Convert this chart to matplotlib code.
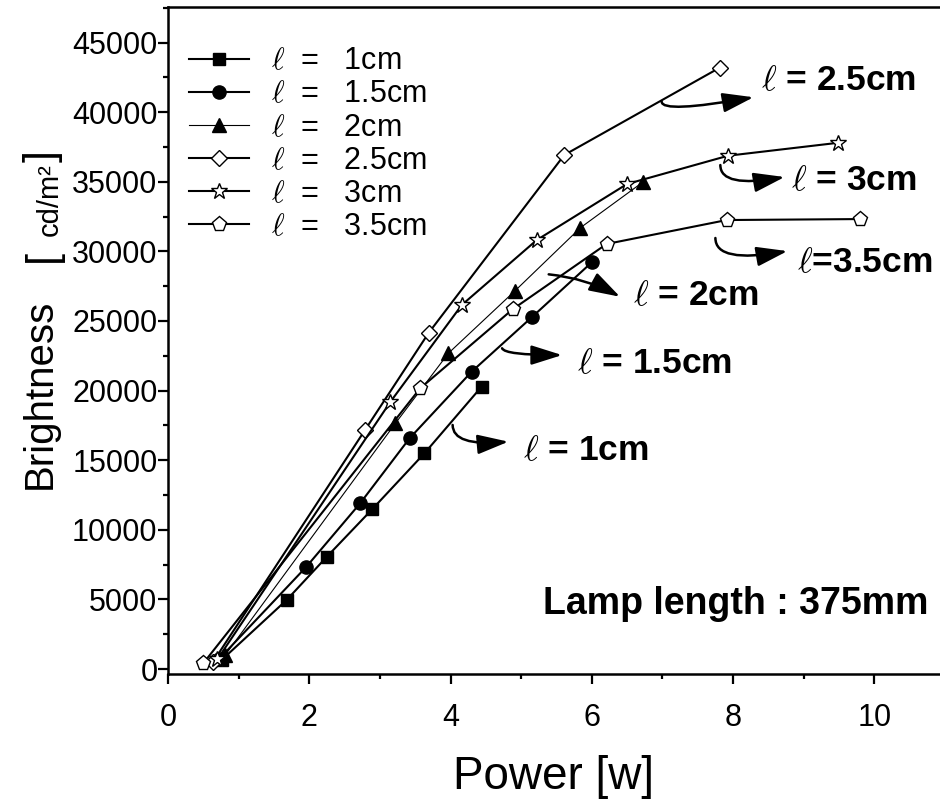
import matplotlib
matplotlib.use("Agg")
import matplotlib.pyplot as plt
from matplotlib.ticker import MultipleLocator

plt.rcParams['font.family'] = ['Liberation Sans', 'DejaVu Sans']
plt.rcParams['mathtext.fontset'] = 'cm'

# data: power [W] vs brightness [cd/m2] per electrode length
power_1 = [0.76, 1.68, 2.25, 2.89, 3.63, 4.44]
bright_1 = [650, 4960, 8070, 11470, 15490, 20280]

power_15 = [0.72, 1.96, 2.72, 3.42, 4.30, 5.16, 6.01]
bright_15 = [700, 7350, 11900, 16570, 21360, 25310, 29260]

power_2 = [0.81, 3.22, 3.97, 4.91, 5.84, 6.73]
bright_2 = [1000, 17650, 22680, 27150, 31700, 35000]

power_25 = [0.64, 2.79, 3.69, 5.61, 7.81]
bright_25 = [525, 17170, 24140, 36920, 43190]

power_3 = [0.70, 3.15, 4.16, 5.22, 6.50, 7.93, 9.49]
bright_3 = [700, 19200, 26150, 30810, 34840, 36870, 37800]

power_35 = [0.50, 3.57, 4.88, 6.21, 7.91, 9.80]
bright_35 = [410, 20160, 25840, 30530, 32250, 32320]

lengths = ['1cm', '1.5cm', '2cm', '2.5cm', '3cm', '3.5cm']

fig = plt.figure(figsize=(9.4, 7.99), dpi=100)
ax = fig.add_axes([0.1787, 0.1564, 0.8213, 0.8348])

series = [
    (power_1, bright_1, 's', 'black', 8.5, 1.5),
    (power_15, bright_15, 'o', 'black', 9.5, 1.5),
    (power_2, bright_2, '^', 'black', 10, 0.8),
    (power_25, bright_25, 'D', 'white', 8.5, 1.5),
    (power_3, bright_3, '*', 'white', 12, 1.5),
    (power_35, bright_35, 'p', 'white', 11, 1.5),
]
for (px, py, mk, fc, ms, lw), name in zip(series, lengths):
    ax.plot(px, py, color='black', lw=lw, marker=mk, ms=ms, mfc=fc,
            mec='black', mew=1.0, label=r'$\ell$  =   ' + name)

ax.set_xlim(0, 10.93)
ax.set_ylim(-360, 47550)
ax.xaxis.set_major_locator(MultipleLocator(2))
ax.xaxis.set_minor_locator(MultipleLocator(1))
ax.yaxis.set_major_locator(MultipleLocator(5000))
ax.yaxis.set_minor_locator(MultipleLocator(2500))
ax.tick_params(which='major', direction='out', length=7, width=1.6, labelsize=22)
ax.tick_params(which='minor', direction='out', length=3.8, width=1.6)
ax.tick_params(axis='y', pad=0.5)
ax.tick_params(axis='x', pad=14)
ax.spines['right'].set_visible(False)
for s in ['left', 'bottom', 'top']:
    ax.spines[s].set_linewidth(1.8)

ax.set_xlabel('Power [w]', fontsize=33, labelpad=16)

# y label built from pieces so the unit can be smaller than the word
fig.text(40 / 940, 1 - 394 / 799, 'Brightness', rotation=90, fontsize=29,
         ha='center', va='center')
fig.text(43 / 940, 1 - 256 / 799, '[', rotation=90, fontsize=31, ha='center', va='center')
fig.text(50 / 940, 1 - 200 / 799, 'cd/m²', rotation=90, fontsize=21, ha='center', va='center')
fig.text(43 / 940, 1 - 156 / 799, ']', rotation=90, fontsize=31, ha='center', va='center')

ax.legend(loc='upper left', bbox_to_anchor=(0.019, 0.95), frameon=False, fontsize=22,
          handlelength=1.96, handletextpad=0.72, labelspacing=0.1, borderaxespad=0,
          borderpad=0.2)

# curved arrows pointing to each curve label: (text, arrow start, arrow head, text left/baseline)
arrows = [
    (r'$\ell$ = 2.5cm', (6.99, 40750), (8.29, 41070), (8.39, 41590), 'angle3,angleA=90,angleB=10'),
    (r'$\ell$ = 3cm', (7.82, 36200), (8.73, 35340), (8.82, 34410), 'angle3,angleA=90,angleB=10'),
    (r'$\ell$=3.5cm', (7.75, 30960), (8.77, 30020), (8.91, 28520), 'angle3,angleA=90,angleB=10'),
    (r'$\ell$ = 2cm', (5.39, 28350), (6.40, 26740), (6.59, 26150), 'arc3,rad=-0.1'),
    (r'$\ell$ = 1.5cm', (4.73, 23040), (5.58, 22550), (5.79, 21260), 'angle3,angleA=-70,angleB=0'),
    (r'$\ell$ = 1cm', (4.03, 17530), (4.82, 16330), (5.03, 15010), 'angle3,angleA=90,angleB=5'),
]
for txt, start, head, tpos, cs in arrows:
    ax.annotate('', xy=head, xytext=start,
                arrowprops=dict(arrowstyle='-|>,head_length=0.95,head_width=0.3',
                                mutation_scale=20, color='black', lw=1.8,
                                connectionstyle=cs, shrinkA=0, shrinkB=0))
    ax.text(tpos[0], tpos[1], txt, fontsize=25.5, fontweight='bold', ha='left', va='baseline')

ax.text(10.77, 3950, 'Lamp length : 375mm', fontsize=27,
        fontweight='bold', ha='right', va='baseline')

fig.savefig('out.png', dpi=100)
